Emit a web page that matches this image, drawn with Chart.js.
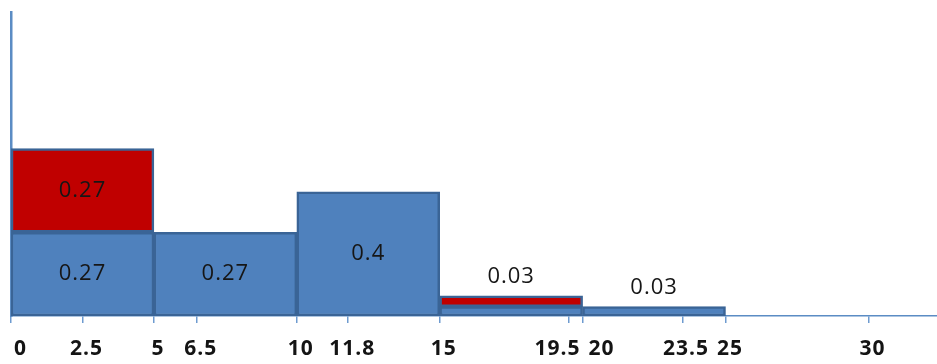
<!DOCTYPE html>
<html>
<head>
<meta charset="utf-8">
<script src="https://cdn.jsdelivr.net/npm/chart.js@4.4.0/dist/chart.umd.min.js"></script>
<style>
  html, body { margin: 0; padding: 0; background: #ffffff; }
  #wrap { width: 937px; height: 364px; position: relative; }
</style>
</head>
<body>
<div id="wrap"><canvas id="chart"></canvas></div>
<script>
// Class edges of the histogram (each bar spans one interval)
const binEdges = [0, 5, 10, 15, 20, 25];
// Lower (blue) part of each bar
const blueValues = [0.27, 0.27, 0.4, 0.03, 0.03];
// Upper (red) part stacked on the blue part; null = none
const redValues = [0.27, null, null, 0.035, null];
// Values marked along the horizontal axis
const tickValues = [0, 2.5, 5, 6.5, 10, 11.8, 15, 19.5, 20, 23.5, 25, 30];
const xMax = 32.4;

const centers = blueValues.map((_, i) => (binEdges[i] + binEdges[i + 1]) / 2);

const blueData = blueValues.map((v, i) => ({ x: centers[i], y: [0, v] }));
const redIndex = [];
const redData = [];
redValues.forEach((v, i) => {
  if (v !== null) {
    redIndex.push(i);
    redData.push({ x: centers[i], y: [blueValues[i], blueValues[i] + v] });
  }
});

const BAR_BORDER = '#3A6496';
const AXIS_BLUE = '#5B8CC4';
const VALUE_FONT = '22px "Open Sans", "DejaVu Sans", sans-serif';
const TICK_FONT = 'bold 21px "Open Sans", "DejaVu Sans", sans-serif';

// Writes the value of each part inside it, or above the bar when it is too thin
const barLabels = {
  id: 'barLabels',
  afterDatasetsDraw(chart) {
    const ctx = chart.ctx;
    const blueMeta = chart.getDatasetMeta(0);
    const redMeta = chart.getDatasetMeta(1);
    ctx.save();
    ctx.font = VALUE_FONT;
    if ('letterSpacing' in ctx) ctx.letterSpacing = '1px';
    ctx.fillStyle = '#161616';
    ctx.textAlign = 'center';
    ctx.textBaseline = 'middle';
    blueValues.forEach((v, i) => {
      const el = blueMeta.data[i];
      if (v >= 0.1) {
        ctx.fillText(String(v), el.x, (el.y + el.base) / 2);
      } else {
        let top = el.y;
        const k = redIndex.indexOf(i);
        if (k >= 0) top = Math.min(top, redMeta.data[k].y);
        ctx.fillText(String(v), el.x, top - 19);
      }
    });
    redIndex.forEach((i, k) => {
      const v = redValues[i];
      if (v >= 0.1) {
        const el = redMeta.data[k];
        ctx.fillText(String(v), el.x, (el.y + el.base) / 2);
      }
    });
    ctx.restore();
  }
};

// Writes the axis values under their tick marks, pushing apart labels that would collide
const axisLabels = {
  id: 'axisLabels',
  afterDraw(chart) {
    const scale = chart.scales.xt;
    const ctx = chart.ctx;
    ctx.save();
    ctx.font = TICK_FONT;
    if ('letterSpacing' in ctx) ctx.letterSpacing = '1px';
    ctx.fillStyle = '#141414';
    ctx.textAlign = 'center';
    ctx.textBaseline = 'middle';
    const items = tickValues.map(v => {
      const text = String(v);
      return { text, x: scale.getPixelForValue(v) + 4, w: ctx.measureText(text).width };
    });
    const gap = 8;
    for (let i = 1; i < items.length; i++) {
      const a = items[i - 1], b = items[i];
      const need = a.w / 2 + b.w / 2 + gap;
      const have = b.x - a.x;
      if (have < need) {
        const push = (need - have) / 2;
        a.x -= push;
        b.x += push;
      }
    }
    if (items.length && items[0].x - items[0].w / 2 < scale.left + 3) {
      items[0].x = scale.left + 3 + items[0].w / 2;
    }
    const y = scale.bottom + 26;
    items.forEach(it => ctx.fillText(it.text, it.x, y));
    ctx.restore();
  }
};

new Chart(document.getElementById('chart'), {
  type: 'bar',
  data: {
    datasets: [
      {
        label: 'blue',
        data: blueData,
        xAxisID: 'x',
        yAxisID: 'y',
        backgroundColor: '#4F81BD',
        borderColor: BAR_BORDER,
        borderWidth: 2.5,
        borderSkipped: false,
        grouped: false,
        barPercentage: 1,
        categoryPercentage: 1
      },
      {
        label: 'red',
        data: redData,
        xAxisID: 'x',
        yAxisID: 'y',
        backgroundColor: '#C00000',
        borderColor: BAR_BORDER,
        borderWidth: 2.5,
        borderSkipped: false,
        grouped: false,
        barPercentage: 1,
        categoryPercentage: 1
      }
    ]
  },
  options: {
    responsive: true,
    maintainAspectRatio: false,
    animation: false,
    layout: { padding: { top: 12, left: 11, right: 0, bottom: 41 } },
    plugins: {
      legend: { display: false },
      tooltip: { enabled: false }
    },
    scales: {
      x: {
        type: 'linear',
        min: 0,
        max: xMax,
        offset: false,
        display: false,
        grid: { offset: false },
        afterBuildTicks: (scale) => { scale.ticks = []; }
      },
      xt: {
        type: 'linear',
        position: 'bottom',
        axis: 'x',
        min: 0,
        max: xMax,
        offset: false,
        afterBuildTicks: (scale) => { scale.ticks = tickValues.map(v => ({ value: v })); },
        ticks: { display: false },
        grid: {
          offset: false,
          drawOnChartArea: false,
          drawTicks: true,
          tickLength: 7,
          color: '#6E9BD0',
          lineWidth: 1.5
        },
        border: { display: true, color: AXIS_BLUE, width: 1.5 }
      },
      y: {
        type: 'linear',
        min: 0,
        max: 0.98,
        ticks: { display: false },
        grid: { display: false, drawTicks: false },
        border: { display: true, color: AXIS_BLUE, width: 2.5 }
      }
    }
  },
  plugins: [barLabels, axisLabels]
});
</script>
</body>
</html>
